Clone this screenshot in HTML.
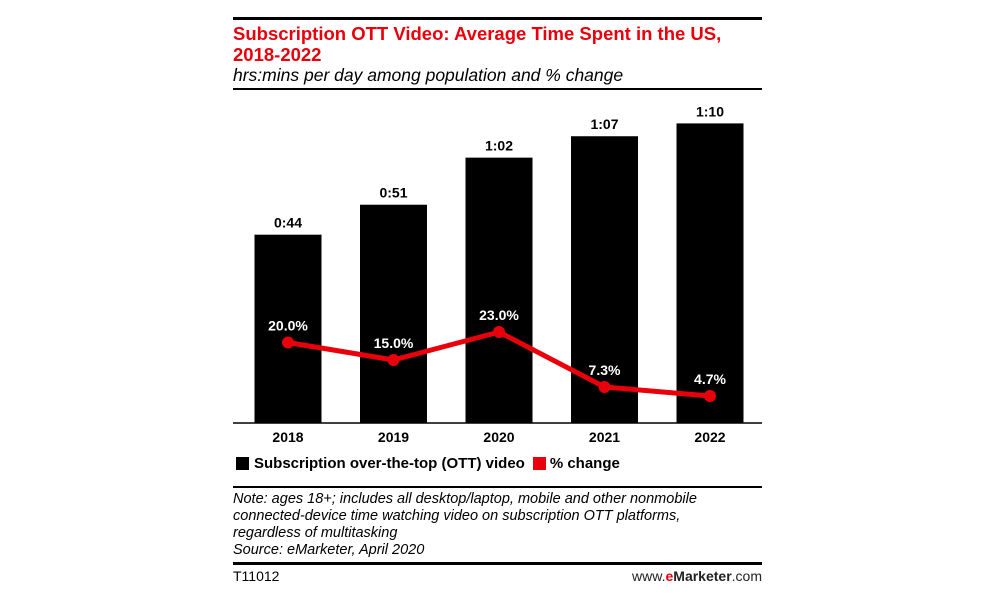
<!DOCTYPE html>
<html><head><meta charset="utf-8"><style>
body{margin:0;width:1000px;height:600px;background:#fff;font-family:"Liberation Sans",Arial,sans-serif;position:relative;overflow:hidden}
.a{position:absolute}
</style></head><body>
<div class="a" style="left:233px;top:17px;width:529px;height:3px;background:#000"></div>
<div class="a" style="left:233px;top:23px;color:#e8000b;font-weight:bold;font-size:18.5px;line-height:21px;width:540px">Subscription OTT Video: Average Time Spent in the US,<br>2018-2022</div>
<div class="a" style="left:233px;top:65px;font-style:italic;font-size:17.5px;color:#000">hrs:mins per day among population and % change</div>
<div class="a" style="left:233px;top:88px;width:529px;height:2px;background:#000"></div>
<svg class="a" style="left:0;top:0" width="1000" height="600">
<g id="bars"></g><g id="line"></g><g id="labels"></g>
<line x1="233" y1="423" x2="762" y2="423" stroke="#000" stroke-width="1.5"/>
</svg>
<div class="a" style="left:236px;top:455px;font-weight:bold;font-size:15px;display:flex;align-items:center">
<span style="width:13px;height:13px;background:#000;display:inline-block;margin-right:5px"></span>
<span>Subscription over-the-top (OTT) video</span>
<span style="width:13px;height:13px;background:#e8000b;display:inline-block;margin:0 4px 0 8px"></span>
<span>% change</span></div>
<div class="a" style="left:233px;top:486px;width:529px;height:2px;background:#000"></div>
<div class="a" style="left:233px;top:491px;font-style:italic;font-size:14.5px;line-height:17px;white-space:nowrap">Note: ages 18+; includes all desktop/laptop, mobile and other nonmobile<br>connected-device time watching video on subscription OTT platforms,<br>regardless of multitasking<br>Source: eMarketer, April 2020</div>
<div class="a" style="left:233px;top:562px;width:529px;height:3px;background:#000"></div>
<div class="a" style="left:233px;top:568px;font-size:14px">T11012</div>
<div class="a" style="left:582px;width:180px;text-align:right;top:568px;font-size:14px;color:#222">www.<b style="color:#e8000b">e</b><b>Marketer</b>.com</div>
<script>
const years=["2018","2019","2020","2021","2022"];
const minutes=[44,51,62,67,70];
const barLabels=["0:44","0:51","1:02","1:07","1:10"];
const pctChange=[20.0,15.0,23.0,7.3,4.7];
const pctLabels=["20.0%","15.0%","23.0%","7.3%","4.7%"];
const NS="http://www.w3.org/2000/svg";
const xC=i=>288+i*105.5, yBar=m=>423-m*4.28, yPct=v=>412.5-v*3.5;
function mk(t,at,p){const e=document.createElementNS(NS,t);for(const k in at)e.setAttribute(k,at[k]);p.appendChild(e);return e;}
const gb=document.getElementById('bars'),gl=document.getElementById('line'),gt=document.getElementById('labels');
years.forEach((y,i)=>{
 const r=mk('rect',{x:xC(i)-33.5,y:yBar(minutes[i]),width:67,height:423-yBar(minutes[i]),fill:'#000'},gb);
 
 
 const t=mk('text',{x:xC(i),y:yBar(minutes[i])-7,'text-anchor':'middle','font-size':'14','font-weight':'bold','font-family':'Liberation Sans, sans-serif'},gt);
 t.textContent=barLabels[i];
 
 
 const x=mk('text',{x:xC(i),y:442,'text-anchor':'middle','font-size':'14','font-weight':'bold','font-family':'Liberation Sans, sans-serif'},gt);
 x.textContent=y;
 
 
});
const pl=mk('polyline',{points:pctChange.map((v,i)=>xC(i)+','+yPct(v)).join(' '),fill:'none',stroke:'#e8000b','stroke-width':'5','stroke-linejoin':'round'},gl);


pctChange.forEach((v,i)=>{
 const c=mk('circle',{cx:xC(i),cy:yPct(v),r:6,fill:'#e8000b'},gl);
 
 
 const t=mk('text',{x:xC(i),y:yPct(v)-12,'text-anchor':'middle','font-size':'14','font-weight':'bold',fill:'#fff','font-family':'Liberation Sans, sans-serif'},gt);
 t.textContent=pctLabels[i];
 
 
});
</script>
</body></html>
